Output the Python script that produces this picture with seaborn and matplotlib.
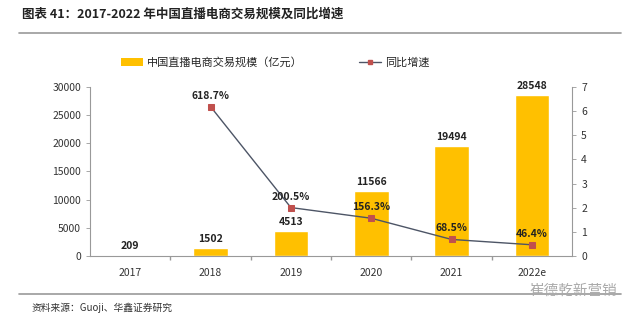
import matplotlib
matplotlib.use("Agg")
import matplotlib.pyplot as plt
import seaborn as sns
import numpy as np
import pandas as pd
from matplotlib.patches import Patch
from matplotlib.lines import Line2D

years = ["2017", "2018", "2019", "2020", "2021", "2022e"]
scale = [209, 1502, 4513, 11566, 19494, 28548]
growth = [np.nan, 6.187, 2.005, 1.563, 0.685, 0.464]
growth_labels = ["", "618.7%", "200.5%", "156.3%", "68.5%", "46.4%"]

sns.set_theme(style="white")
plt.rcParams['font.family'] = ['Noto Sans CJK SC', 'DejaVu Sans']

fig = plt.figure(figsize=(6.4, 3.22), dpi=100)
ax = fig.add_axes([0.1406, 0.205, 0.7534, 0.525])

df = pd.DataFrame({"year": years, "scale": scale})
bar_color = "#FFC000"
sns.barplot(data=df, x="year", y="scale", color=bar_color, width=0.43, ax=ax,
            saturation=1)
ax.set_ylim(0, 30000)
ax.set_yticks(range(0, 30001, 5000))
ax.set_xlabel("")
ax.set_ylabel("")
for i, v in enumerate(scale):
    ax.text(i, v + 700, f"{v}", ha="center", va="bottom", fontsize=7.5,
            fontweight="bold", color="#222222")

ax2 = ax.twinx()
idx = np.arange(len(years))
line_color = "#4D5566"
sns.lineplot(x=idx, y=growth, ax=ax2, color=line_color, lw=1.0, marker="s",
             markersize=4, markerfacecolor="#C0504D", markeredgecolor="#C0504D")
ax2.set_ylim(0, 7)
ax2.set_yticks(range(0, 8))
for i, (g, lab) in enumerate(zip(growth, growth_labels)):
    if lab:
        ax2.text(i, g + 0.25, lab, ha="center", va="bottom", fontsize=7.5,
                 fontweight="bold", color="#222222")
ax.set_xlim(-0.5, len(years) - 0.5)

for a in (ax, ax2):
    for s in a.spines.values():
        s.set_visible(False)
    a.tick_params(labelsize=7.5, colors="#333333", length=3, width=0.6)
ax.spines["left"].set_visible(True)
ax.spines["bottom"].set_visible(True)
ax2.spines["right"].set_visible(True)
for s in (ax.spines["left"], ax.spines["bottom"], ax2.spines["right"]):
    s.set_color("#999999")
    s.set_linewidth(0.8)
ax.tick_params(axis="y", left=True, color="#999999")
ax2.tick_params(axis="y", right=True, color="#999999")
ax.tick_params(axis="x", bottom=False, pad=6)
ax.set_xticks(np.arange(len(years) - 1) + 0.5, minor=True)
ax.tick_params(axis="x", which="minor", bottom=True, length=3, color="#999999")
ax.grid(False)
ax2.grid(False)

handles = [Patch(facecolor=bar_color, edgecolor="none"),
           Line2D([0], [0], color=line_color, lw=1, marker="s", markersize=3,
                  markerfacecolor="#C0504D", markeredgecolor="#C0504D")]
fig.legend(handles, ["中国直播电商交易规模（亿元）", "同比增速"], loc="center",
           bbox_to_anchor=(0.43, 0.807), ncol=2, frameon=False, fontsize=8,
           columnspacing=5, handlelength=2.0, handletextpad=0.4)

fig.text(0.035, 0.955, "图表 41：2017-2022 年中国直播电商交易规模及同比增速",
         fontsize=9, fontweight="bold", color="#222222", ha="left", va="center")
fig.add_artist(Line2D([0.03, 0.97], [0.897, 0.897], color="#999999", lw=1.2))
fig.add_artist(Line2D([0.03, 0.97], [0.087, 0.087], color="#999999", lw=1.2))
fig.text(0.05, 0.045, "资料来源：Guoji、华鑫证券研究", fontsize=7,
         color="#333333", ha="left", va="center")
fig.text(0.965, 0.098, "崔德乾新营销", fontsize=10.5, color="#AAAAAA",
         ha="right", va="center")

fig.savefig("out.png", dpi=100)
